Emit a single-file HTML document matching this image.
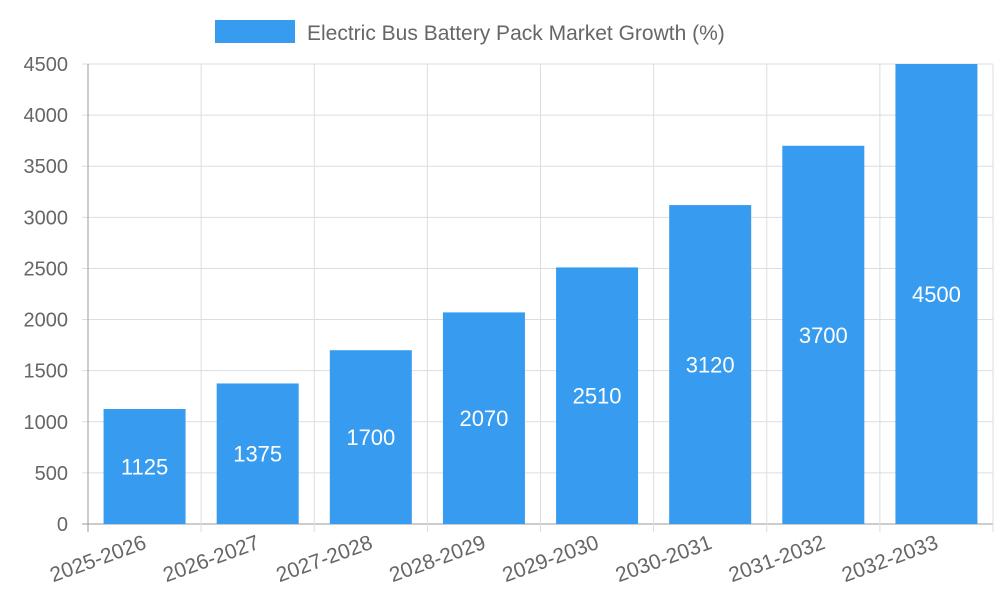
<!DOCTYPE html>
<html><head><meta charset="utf-8"><style>
body{margin:0;background:#fff;}
svg{display:block;font-family:"Liberation Sans",sans-serif;}
</style></head><body>
<svg id="chart" width="1000" height="600">
<g>
<rect x="215" y="20" width="80" height="23" fill="#379cef"></rect>
<text x="307" y="40" font-size="21" fill="#666">Electric Bus Battery Pack Market Growth (%)</text>
</g>
<g id="grid"></g><g id="bars"></g><g id="axes"></g>
</svg>
<script>
const categories=["2025-2026","2026-2027","2027-2028","2028-2029","2029-2030","2030-2031","2031-2032","2032-2033"];
const values=[1125,1375,1700,2070,2510,3120,3700,4500];
const yTicks=[0,500,1000,1500,2000,2500,3000,3500,4000,4500];
const L=88,R=993,T=64,B=524,yMax=4500;
const bw=(R-L)/categories.length;
const x=i=>L+i*bw;
const y=v=>B-(v/yMax)*(B-T);
const NS="http://www.w3.org/2000/svg";
function mk(p,tag,a){const e=document.createElementNS(NS,tag);for(const k in a)e.setAttribute(k,a[k]);p.appendChild(e);return e;}
const grid=document.getElementById('grid'),bars=document.getElementById('bars'),axes=document.getElementById('axes');
yTicks.forEach(t=>{
 const l=mk(grid,'line',{x1:L-6,x2:R,y1:y(t),y2:y(t),stroke:t===0?'#999':'#ddd','stroke-width':1});
 
 
 const tx=mk(axes,'text',{x:L-20,y:y(t)+7,'text-anchor':'end','font-size':20,fill:'#666'});
 tx.textContent=t;
 
 
});
for(let i=0;i<=categories.length;i++){
 const l=mk(grid,'line',{x1:x(i),x2:x(i),y1:T,y2:B+8,stroke:i===0?'#999':'#ddd','stroke-width':1});
 
 
}
categories.forEach((c,i)=>{
 const cx=x(i)+bw/2,w=82;
 const r=mk(bars,'rect',{x:cx-w/2,y:y(values[i]),width:w,height:B-y(values[i]),fill:'#379cef'});
 
 
 const v=mk(bars,'text',{x:cx,y:(y(values[i])+B)/2+8,'text-anchor':'middle','font-size':22,fill:'#fff'});
 v.textContent=values[i];
 
 
 const t=mk(axes,'text',{x:0,y:0,'text-anchor':'end','font-size':21,fill:'#666',transform:`translate(${cx+3},${548}) rotate(-20)`});
 t.textContent=c;
 
 
});
</script>
</body></html>
